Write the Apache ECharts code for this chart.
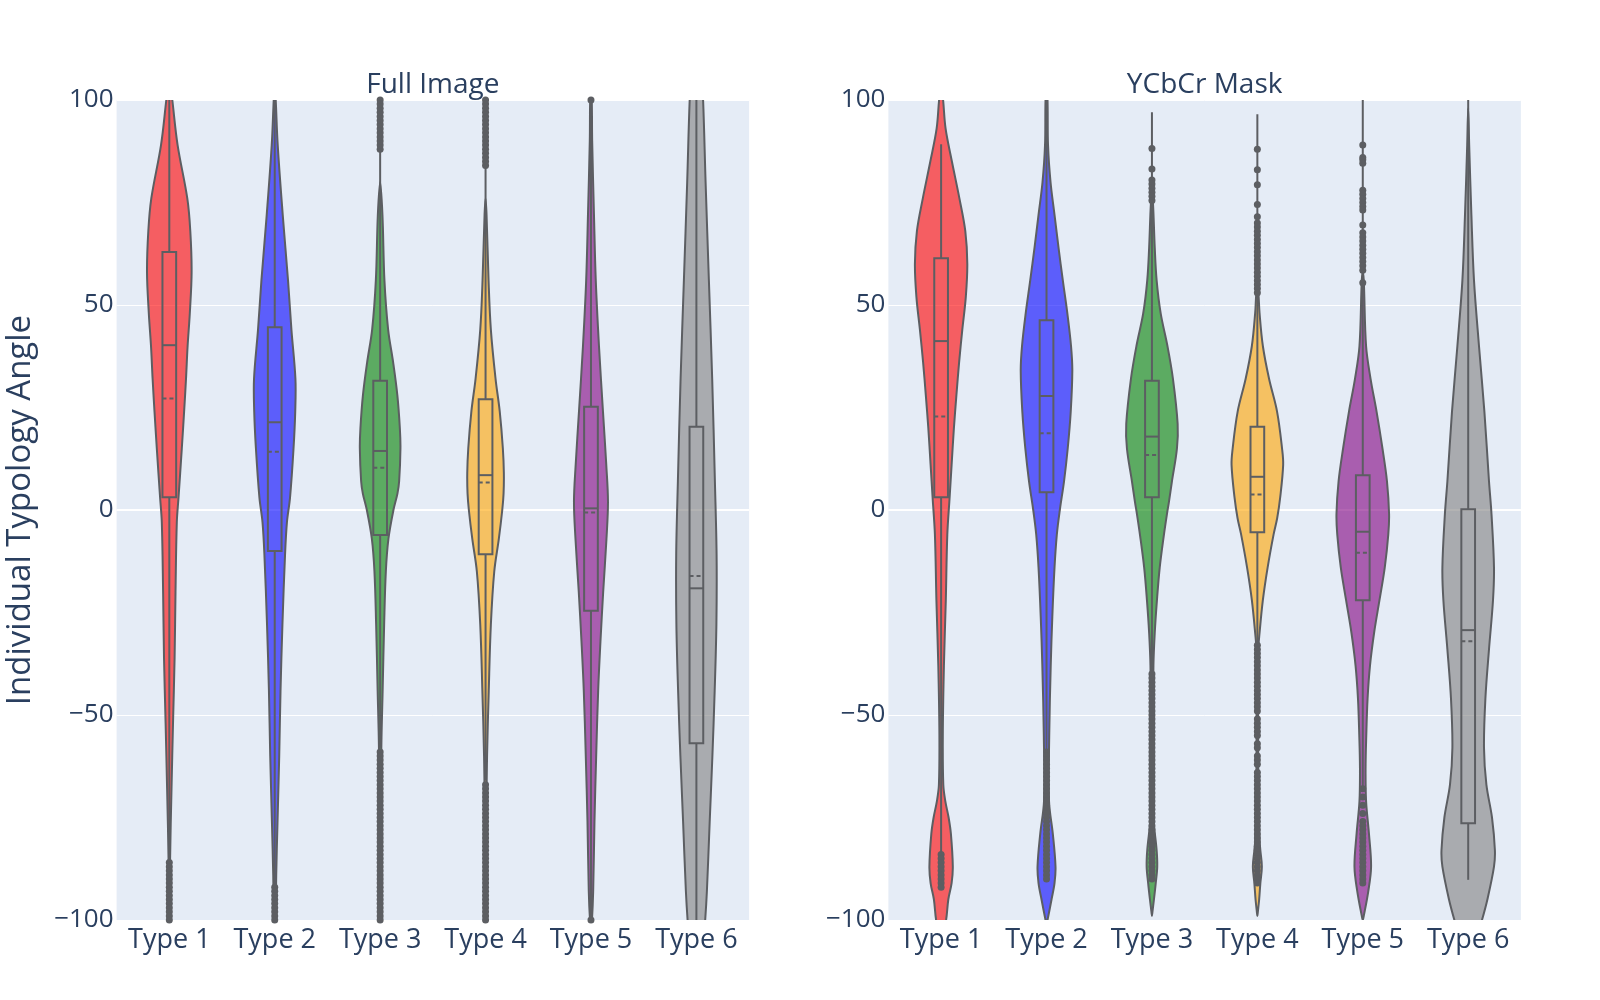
<!DOCTYPE html>
<html>
<head>
<meta charset="utf-8">
<script src="https://cdn.jsdelivr.net/npm/echarts@6/dist/echarts.min.js"></script>
<style>html,body{margin:0;padding:0;background:#fff}#chart{width:1600px;height:1000px}</style>
</head>
<body>
<div id="chart"></div>
<script>
// ---------------- data ----------------
const categories = ['Type 1', 'Type 2', 'Type 3', 'Type 4', 'Type 5', 'Type 6'];
const panelTitles = ['Full Image', 'YCbCr Mask'];
const yAxisTitle = 'Individual Typology Angle';
const yTickValues = [-100, -50, 0, 50, 100];

// violin density profiles: [angle, density]
const fullImageViolins = [
  [[106,0],[100,3],[89,8.3],[76,18],[68,21],[58,22.3],[48,20.5],[40,18.3],[32,16.7],[24,14.8],[15,12.5],[3,9.2],[-3,7.5],[-20,6.2],[-36,5.3],[-52,3.7],[-68,2.2],[-85,0.8],[-100,0.5],[-102,0]],
  [[104,0],[100,1],[89,3],[72,8],[56,13.3],[44,16.7],[32,20.7],[24,20.5],[15,18.8],[3,15.3],[-3,12.2],[-11,10.3],[-28,7.7],[-44,5.8],[-60,4.5],[-76,2.8],[-89,1.5],[-100,1],[-104,0]],
  [[80,0],[72,2.3],[56,4.3],[44,8],[36,13],[28,17.2],[20,19.7],[15,20.3],[7,19],[4,17.3],[0,13.3],[-7,8.3],[-15,5.7],[-28,4],[-44,2.5],[-58,1.2],[-75,0.8],[-100,0.5],[-101,0]],
  [[76,0],[72,1],[56,3],[44,5.3],[32,10],[24,14.2],[15,17.3],[9,18.3],[4,18],[0,16.7],[-7,13.3],[-15,8.7],[-28,5.3],[-44,3.2],[-60,1.5],[-75,0.8],[-100,0.5],[-101,0]],
  [[102,0],[100,0.8],[90,1.2],[72,3],[56,4.8],[40,8],[24,12],[11,15.3],[2,17],[-7,15.5],[-20,12.2],[-32,9.5],[-44,7.2],[-60,5.2],[-76,3.5],[-93,2.2],[-100,1],[-102,0]],
  [[112,4],[100,6.7],[80,9.2],[56,12.5],[32,15.8],[7,18.5],[-11,20.2],[-28,20],[-44,18.3],[-60,16],[-76,13.3],[-93,10.5],[-100,8.8],[-112,5]]
];
const ycbcrViolins = [
  [[104,0],[100,2],[93,4.5],[85,10.8],[76,18.3],[68,24.2],[60,26.2],[52,24.7],[44,21.2],[36,18],[28,15.3],[20,12.8],[11,10.5],[3,8.5],[-6,6.2],[-22,4.7],[-38,2.8],[-55,1.7],[-67,2.2],[-71,4.2],[-75,7.5],[-79,9.8],[-87,11.7],[-91,10.5],[-95,7.2],[-100,5],[-106,0]],
  [[102,0],[100,1],[89,1.5],[80,4],[72,8],[64,12],[56,16.3],[48,20.8],[40,24.5],[34,25.8],[24,24.2],[15,21.2],[7,17.5],[0,13.3],[-6,10.3],[-14,8],[-26,5.8],[-38,4.2],[-55,2.7],[-71,2.5],[-79,6.3],[-87,9],[-91,8],[-95,5],[-100,1],[-101,0]],
  [[76,0],[75,1],[64,2.8],[56,4.7],[48,8.7],[40,15.5],[32,21],[21,25.7],[15,25],[7,20],[2,17],[-1,15],[-6,12],[-14,7.8],[-22,5],[-30,2.8],[-38,1.5],[-60,1],[-75,1.5],[-83,4.7],[-87,5.3],[-91,3.8],[-95,2],[-98,0.5],[-99,0]],
  [[54,0],[53,1],[48,2.2],[40,5.5],[32,11.7],[24,19.7],[15,24.7],[11,25.8],[3,22.8],[-2,19.8],[-6,16.2],[-14,10.3],[-22,5.5],[-30,2.2],[-34,1],[-70,1],[-80,2],[-83,3],[-87,4.5],[-91,3],[-95,1.8],[-98,0.5],[-99,0]],
  [[58,0],[56,1],[40,3.3],[32,7.8],[24,13.8],[15,19.7],[7,24.2],[-1,26.3],[-6,25.5],[-14,22],[-22,16.7],[-30,11.3],[-38,7.2],[-46,4.8],[-55,3.5],[-63,2.8],[-71,3.3],[-79,6.2],[-87,8.3],[-93,5.5],[-99,1],[-100,0]],
  [[98,0],[89,1],[72,3.2],[56,5.8],[40,10.8],[24,16.2],[7,20.8],[-1,23.3],[-14,25.8],[-22,24.8],[-34,20.8],[-46,17.2],[-58,15.8],[-67,18.2],[-75,23.8],[-83,26.7],[-87,25.8],[-95,19.2],[-100,13.8],[-108,4],[-112,0]]
];

// box statistics: [lower whisker, q1, median, q3, upper whisker, mean]
const fullImageBoxes = [
  [-86, 3.1, 40.2, 62.9, 100, 27.2],
  [-92, -10, 21.4, 44.6, 100, 14.2],
  [-58, -6.1, 14.4, 31.5, 88, 10.3],
  [-66, -10.8, 8.5, 27, 84, 6.7],
  [-100, -24.6, 0.4, 25.2, 100, -0.6],
  [-104, -56.9, -19.1, 20.3, 104, -16.1]
];
const ycbcrBoxes = [
  [-84, 3.1, 41.2, 61.4, 89.2, 22.8],
  [-58.5, 4.3, 27.8, 46.3, 100, 18.7],
  [-40, 3.1, 17.9, 31.5, 97, 13.4],
  [-33, -5.4, 8.1, 20.3, 96.5, 3.8],
  [-68.3, -22, -5.3, 8.5, 100, -10.4],
  [-90.2, -76.4, -29.3, 0.2, 100, -32]
];

// outlier points
const fullImageOutliers = [
  [-86,-87,-88,-89,-90,-91,-92,-93,-94,-95,-96,-97,-98,-99,-100],
  [-92,-93,-94,-95,-96,-97,-98,-99,-100],
  [88,89,90,91,92,93,94,95,96,97,98,99,100,
   -59,-60,-61,-62,-63,-64,-65,-66,-67,-68,-69,-70,-71,-72,-73,-74,-75,-76,-77,-78,-79,-80,
   -81,-82,-83,-84,-85,-86,-87,-88,-89,-90,-91,-92,-93,-94,-95,-96,-97,-98,-99,-100],
  [84,85,86,87,88,89,90,91,92,93,94,95,96,97,98,99,100,
   -67,-68,-69,-70,-71,-72,-73,-74,-75,-76,-77,-78,-79,-80,-81,-82,-83,-84,-85,-86,-87,-88,
   -89,-90,-91,-92,-93,-94,-95,-96,-97,-98,-99,-100],
  [100, -100],
  []
];
const ycbcrOutliers = [
  [-84,-85,-86,-87,-88,-89,-90,-91,-92],
  [-59,-60,-61,-62,-63,-64,-65,-66,-67,-68,-69,-70,-71,-72,-73,-74,-75,-76,-77,-78,-79,-80,
   -81,-82,-83,-84,-85,-86,-87,-88,-89,-90],
  [88.2,83.2,80.5,79.5,78.5,77.5,76.5,75.5,
   -40,-41,-42,-43,-44,-45,-46,-47,-48,-49,-50,-51,-52,-53,-54,-55,-56,-57,-58,-59,-60,
   -61,-62,-63,-64,-65,-66,-67,-68,-69,-70,-71,-72,-73,-74,-75,-76,-77,-78,-79,-80,
   -81,-82,-83,-84,-85,-86,-87,-88,-89,-90],
  [88,83,79.3,74.5,71.5,70,69,68,67,66,65,64,63,62,61,60,59,58,57,56,55,54,53,
   -33,-34,-35,-36,-37,-38,-39,-40,-41,-42,-43,-44,-45,-46,-47,-48,-49,-51,-52,-53,-54,-55,-57,-58,-60,
   -61,-62,-64,-65,-66,-67,-68,-69,-70,-71,-72,-73,-74,-75,-76,-77,-78,-79,-80,
   -81,-82,-83,-84,-85,-86,-87,-88,-89,-90,-91],
  [89,86,85.4,84.6,78,77,76,75,74,73.2,69.5,67.6,66.6,65.6,64.6,63.6,62.6,61.6,60.6,59.6,58.5,55.4,
   -68,-70,-72,-74,-76,-77,-78,-79,-80,-81,-82,-83,-84,-85,-86,-87,-88,-89,-90,-91],
  []
];

// ---------------- style ----------------
const fillColors = ['rgba(255,0,0,0.6)','rgba(0,0,255,0.6)','rgba(0,128,0,0.6)','rgba(255,165,0,0.6)','rgba(128,0,128,0.6)','rgba(128,128,128,0.6)'];
const LINE = '#5c5e62';
const TEXT = '#2a3f5f';
const FONT = '"Open Sans", verdana, arial, sans-serif';
const DENSITY_TO_BAND = 1 / 105.4;
const BOX_HALF = 0.065;
const GRID_TOP = 100, GRID_H = 820, GRID_W = 632.5;
const GRID_LEFTS = [116.6, 888.4];

function violinRenderer(violins, boxes) {
  return function (params, api) {
    const i = api.value(0);
    const band = api.size([1, 0])[0];
    const k = band * DENSITY_TO_BAND;
    const cx = api.coord([i, 0])[0];
    const py = v => api.coord([i, v])[1];
    const prof = violins[i];
    const right = prof.map(p => [cx + p[1] * k, py(p[0])]);
    const left = prof.slice().reverse().filter(p => p[1] > 0).map(p => [cx - p[1] * k, py(p[0])]);
    const b = boxes[i];
    const hw = band * BOX_HALF;
    const ls = { stroke: LINE, lineWidth: 2, fill: null };
    return {
      type: 'group',
      children: [
        { type: 'polygon', shape: { points: right.concat(left), smooth: 0.35 }, style: { fill: fillColors[i], stroke: LINE, lineWidth: 2 } },
        { type: 'line', shape: { x1: cx, y1: py(b[0]), x2: cx, y2: py(b[1]) }, style: ls },
        { type: 'line', shape: { x1: cx, y1: py(b[3]), x2: cx, y2: py(b[4]) }, style: ls },
        { type: 'rect', shape: { x: cx - hw, y: py(b[3]), width: 2 * hw, height: py(b[1]) - py(b[3]) }, style: { fill: 'none', stroke: LINE, lineWidth: 2 } },
        { type: 'line', shape: { x1: cx - hw, y1: py(b[2]), x2: cx + hw, y2: py(b[2]) }, style: ls },
        { type: 'line', shape: { x1: cx - hw, y1: py(b[5]), x2: cx + hw, y2: py(b[5]) }, style: { stroke: LINE, lineWidth: 2, lineDash: [4, 3] } }
      ]
    };
  };
}

const panels = [
  { violins: fullImageViolins, boxes: fullImageBoxes, outliers: fullImageOutliers },
  { violins: ycbcrViolins, boxes: ycbcrBoxes, outliers: ycbcrOutliers }
];

const grids = GRID_LEFTS.map(l => ({
  left: l, top: GRID_TOP, width: GRID_W, height: GRID_H,
  show: true, backgroundColor: '#E5ECF6', borderWidth: 0, containLabel: false
}));

const xAxes = panels.map((p, g) => ({
  type: 'category', gridIndex: g, data: categories,
  axisLine: { show: false }, axisTick: { show: false }, splitLine: { show: false },
  axisLabel: { color: TEXT, fontSize: 27, fontFamily: FONT, margin: 7, interval: 0 }
}));

const yAxes = panels.map((p, g) => ({
  type: 'value', gridIndex: g, min: yTickValues[0], max: yTickValues[yTickValues.length - 1], interval: 50,
  axisLine: { show: false }, axisTick: { show: false },
  splitLine: { show: true, lineStyle: { color: '#ffffff', width: 1 } },
  axisLabel: {
    color: TEXT, fontSize: 26, fontFamily: FONT, margin: 3,
    formatter: v => (v < 0 ? '\u2212' + Math.abs(v) : String(v))
  }
}));

const series = [];
panels.forEach((p, g) => {
  series.push({
    type: 'custom', xAxisIndex: g, yAxisIndex: g, z: 3, clip: true,
    renderItem: violinRenderer(p.violins, p.boxes),
    data: categories.map((c, i) => [i]),
    silent: true
  });
  const pts = [];
  p.outliers.forEach((arr, i) => arr.forEach(v => pts.push([i, v])));
  series.push({
    type: 'scatter', xAxisIndex: g, yAxisIndex: g, z: 4,
    symbol: 'circle', symbolSize: 7,
    itemStyle: { color: LINE, opacity: 1 },
    data: pts, silent: true,
    markLine: {
      silent: true, symbol: 'none', z: 1, animation: false,
      label: { show: false },
      lineStyle: { color: '#ffffff', width: 2, type: 'solid' },
      emphasis: { disabled: true },
      data: [{ yAxis: 0 }]
    }
  });
});

const graphic = [
  { type: 'text', x: GRID_LEFTS[0] + GRID_W / 2, y: 85, style: { text: panelTitles[0], font: '28px ' + FONT, fill: TEXT, align: 'center', verticalAlign: 'middle', textAlign: 'center', textVerticalAlign: 'middle' } },
  { type: 'text', x: GRID_LEFTS[1] + GRID_W / 2, y: 85, style: { text: panelTitles[1], font: '28px ' + FONT, fill: TEXT, align: 'center', verticalAlign: 'middle', textAlign: 'center', textVerticalAlign: 'middle' } },
  { type: 'text', x: 21, y: GRID_TOP + GRID_H / 2, rotation: Math.PI / 2, style: { text: yAxisTitle, font: '33px ' + FONT, fill: TEXT, align: 'center', verticalAlign: 'middle', textAlign: 'center', textVerticalAlign: 'middle' } }
];

const chart = echarts.init(document.getElementById('chart'), null, { renderer: 'canvas' });
chart.setOption({
  backgroundColor: '#ffffff',
  animation: false,
  grid: grids,
  xAxis: xAxes,
  yAxis: yAxes,
  series: series,
  graphic: graphic
});
</script>
</body>
</html>
